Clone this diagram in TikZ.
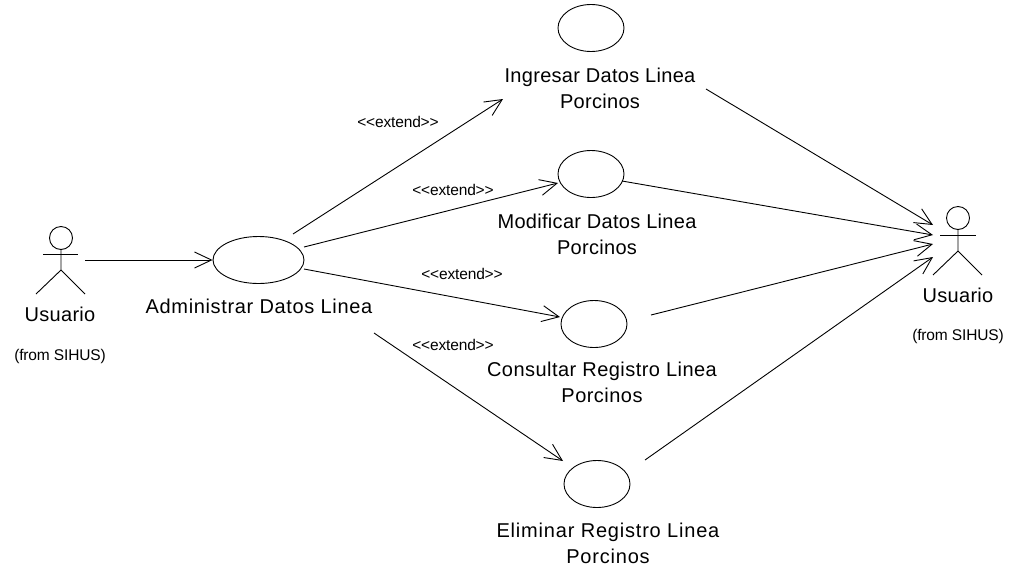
\documentclass[tikz,border=0pt]{standalone}
\usepackage{fontspec}
\setmainfont{Liberation Sans}
\usetikzlibrary{arrows.meta,shapes.geometric}
\tikzset{
  x=1pt,y=-1pt,
  usecase/.style={draw,ellipse,inner sep=0pt,minimum width=#1,minimum height=47pt,line width=0.9pt},
  lbl/.style={font=\fontsize{20}{26}\selectfont\addfontfeatures{LetterSpace=#1},align=center,inner sep=0pt},
  lbl/.default=1.5,
  small/.style={font=\fontsize{15.5}{18}\selectfont\addfontfeatures{LetterSpace=-1},inner sep=0pt},
  conn/.style={line width=0.9pt,-{Straight Barb[length=17pt,width=16pt,line width=0.9pt]}},
  limb/.style={line width=0.9pt}
}
\begin{document}
\begin{tikzpicture}
\useasboundingbox (0,0) rectangle (1014,571);
\node[usecase=66pt] (u1) at (591,28) {};
\node[usecase=66pt] (u2) at (591,174) {};
\node[usecase=66pt] (u3) at (594,324) {};
\node[usecase=66pt] (u4) at (597,484) {};
\node[usecase=91pt] (adm) at (258.5,260) {};
\node[lbl] (t1) at (600,88) {Ingresar Datos Linea\\Porcinos};
\node[lbl] (t2) at (597,234) {Modificar Datos Linea\\Porcinos};
\node[lbl=2.3] (t3) at (602,382) {Consultar Registro Linea\\Porcinos};
\node[lbl=4] (t4) at (608,543) {Eliminar Registro Linea\\Porcinos};
\node[lbl=3.3] (t0) at (259,306) {Administrar Datos Linea};
\node[lbl] (ua) at (60,314) {Usuario};
\node[lbl] (ub) at (958,295) {Usuario};
\node[small] (fa) at (60,356) {(from SIHUS)};
\node[small] (fb) at (958,336) {(from SIHUS)};
\node[small] (e1) at (398,122) {<{}<extend>{}>};
\node[small] (e2) at (453,190) {<{}<extend>{}>};
\node[small] (e3) at (462,274) {<{}<extend>{}>};
\node[small] (e4) at (453,345) {<{}<extend>{}>};
% left actor
\node[draw,circle,limb,minimum size=23pt,inner sep=0pt] (h1) at (61,238) {};
\coordinate (n1) at (61,270);
\draw[limb] (h1) -- (n1) -- (36,294);
\draw[limb] (n1) -- (85,294);
\draw[limb] (43,254) -- (78,254);
% right actor
\node[draw,circle,limb,minimum size=23pt,inner sep=0pt] (h2) at (958,218) {};
\coordinate (n2) at (958,251);
\draw[limb] (h2) -- (n2) -- (933,275);
\draw[limb] (n2) -- (982,275);
\draw[limb] (940,235) -- (976,235);
% connector ends
\coordinate (a0) at (85,260);
\coordinate (b1) at (293,234); \coordinate (c1) at (503,99);
\coordinate (b2) at (304,247); \coordinate (c2) at (558,183);
\coordinate (b3) at (304,269); \coordinate (c3) at (560,317);
\coordinate (b4) at (374,333); \coordinate (c4) at (563,461);
\coordinate (d1) at (706,89);
\coordinate (d2) at (622,181);
\coordinate (d3) at (651,315);
\coordinate (d4) at (645,460);
\coordinate (r1) at (933,225);
\coordinate (r2) at (933,235);
\coordinate (r3) at (933,244);
\coordinate (r4) at (933,257);
\draw[conn] (a0) -- (adm.west);
\draw[conn] (b1) -- (c1);
\draw[conn] (b2) -- (c2);
\draw[conn] (b3) -- (c3);
\draw[conn] (b4) -- (c4);
\draw[conn] (d1) -- (r1);
\draw[conn] (d2) -- (r2);
\draw[conn] (d3) -- (r3);
\draw[conn] (d4) -- (r4);
\end{tikzpicture}
\end{document}
